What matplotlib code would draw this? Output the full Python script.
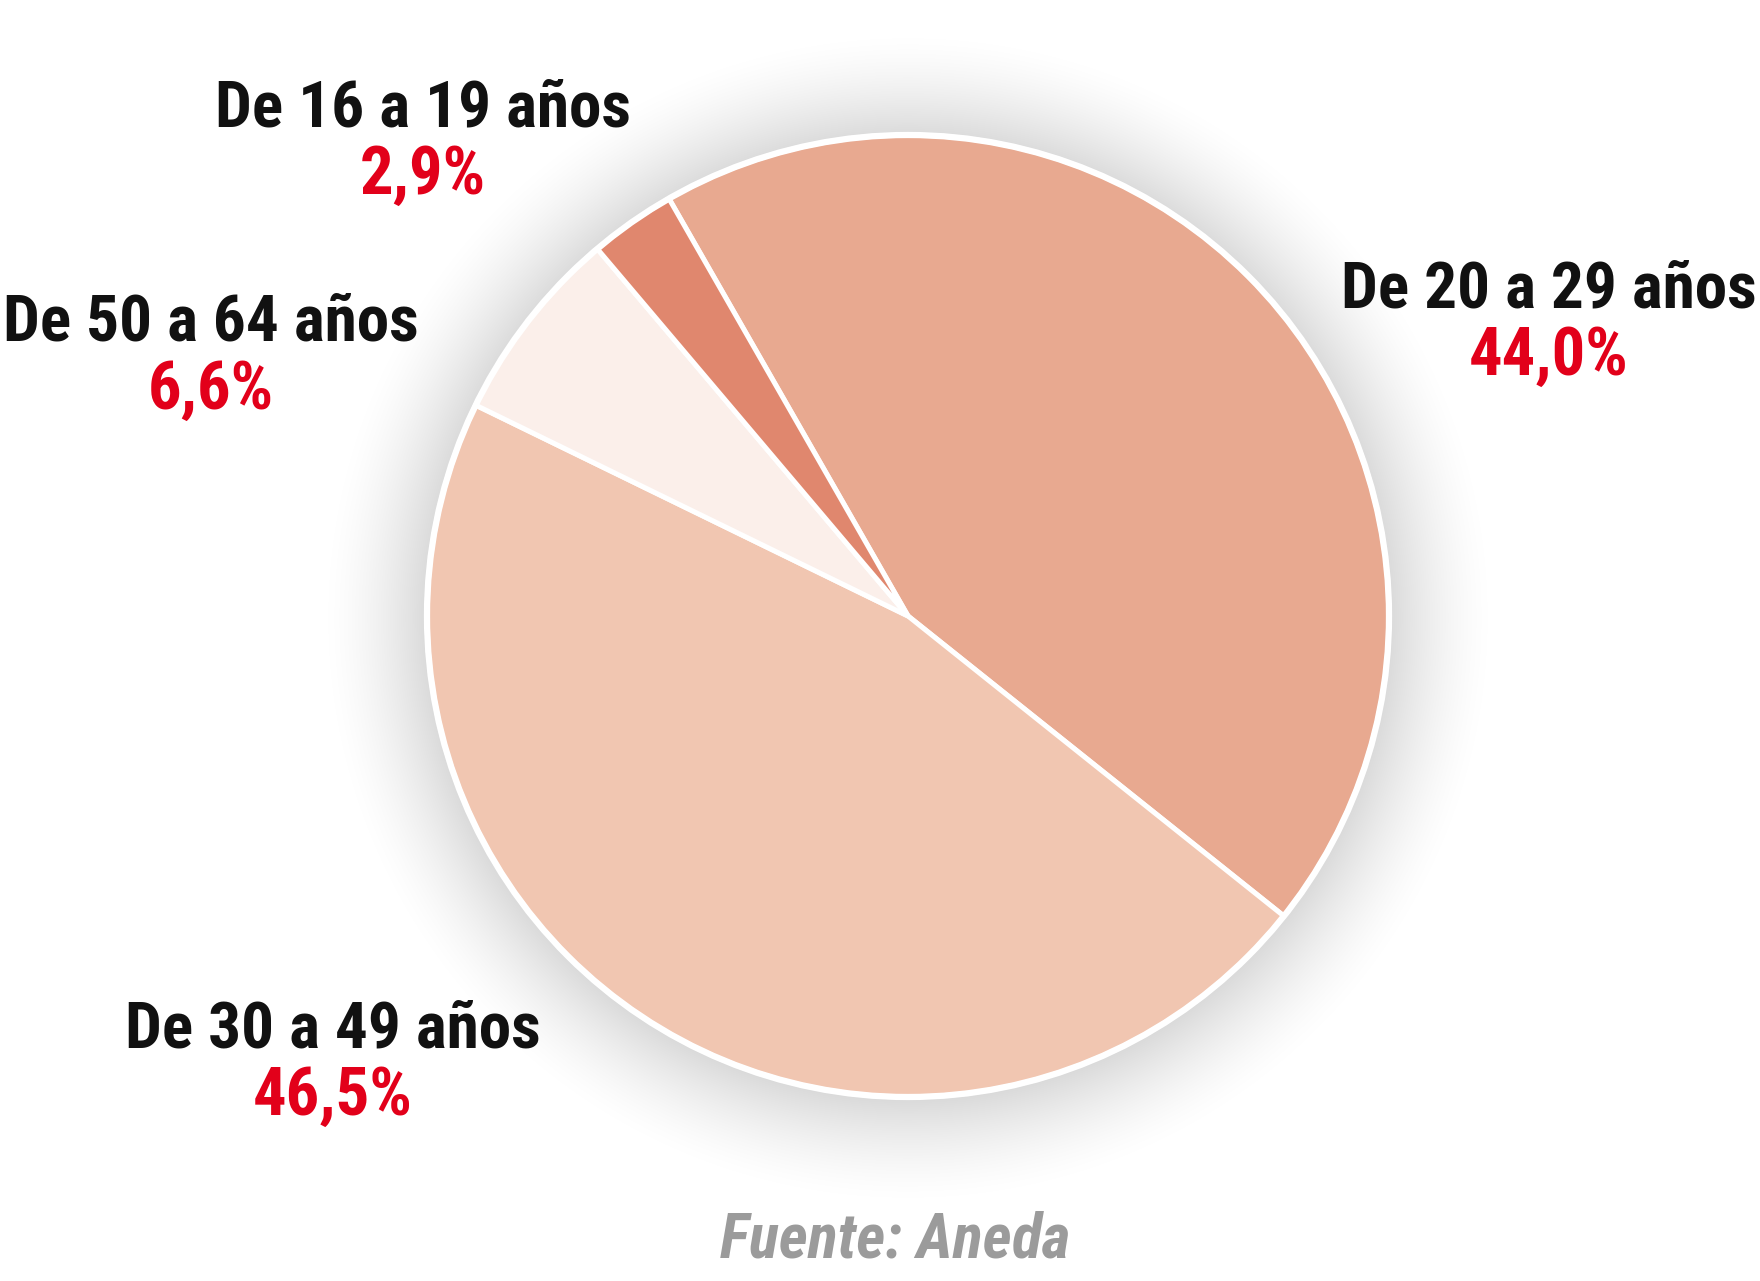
import matplotlib
matplotlib.use("Agg")
import matplotlib.pyplot as plt
import numpy as np
from matplotlib.patches import Circle
from matplotlib import font_manager

categories = ["De 20 a 29 años", "De 30 a 49 años", "De 50 a 64 años", "De 16 a 19 años"]
values = [44.0, 46.5, 6.6, 2.9]
labels_pct = ["44,0%", "46,5%", "6,6%", "2,9%"]
colors = ["#E8A990", "#F1C6B1", "#FBEFEA", "#E0876E"]
source = "Fuente: Aneda"

names = {f.name for f in font_manager.fontManager.ttflist}
fam = ["Roboto Condensed", "Open Sans Condensed", "Liberation Sans Narrow", "Roboto", "DejaVu Sans"]
fam = [f for f in fam if f in names] or ["DejaVu Sans"]

W, H = 1760, 1281
fig = plt.figure(figsize=(W / 100, H / 100), dpi=100)
ax = fig.add_axes([0, 0, 1, 1])

cx, cy, r = 908, H - 616, 481

# soft radial shadow around the pie
yy, xx = np.mgrid[0:H, 0:W]
d = np.hypot(xx + 0.5 - cx, (H - yy - 0.5) - (cy - 2))
t = np.clip(1 - (d - r) / 110.0, 0, 1)
shadow = np.zeros((H, W, 4))
shadow[..., 3] = 0.15 * t ** 1.6
ax.imshow(shadow, extent=(0, W, 0, H), origin="upper", zorder=1, interpolation="bilinear")

ax.pie(values, colors=colors, startangle=119.8, counterclock=False,
       center=(cx, cy), radius=r, frame=True,
       wedgeprops=dict(edgecolor="white", linewidth=3.6, zorder=3))
ax.add_patch(Circle((cx, cy), r, fill=False, edgecolor="white", lw=4.5, zorder=4))
ax.set_xlim(0, W)
ax.set_ylim(0, H)
ax.set_aspect("equal")
ax.axis("off")

pos = {
    "De 20 a 29 años": (1549, 290, 357),
    "De 30 a 49 años": (333, 1030, 1097),
    "De 50 a 64 años": (211, 323, 391),
    "De 16 a 19 años": (423, 109, 176),
}
fs = 47
for cat, pct in zip(categories, labels_pct):
    x, y1, y2 = pos[cat]
    ax.text(x, H - y1, cat, ha="center", va="center", fontsize=fs, fontweight="bold",
            color="#111111", family=fam, zorder=5)
    ax.text(x, H - y2, pct, ha="center", va="center", fontsize=48, fontweight="bold",
            color="#E2001A", family=fam, zorder=5)

ax.text(895, H - 1240, source, ha="center", va="center", fontsize=45, fontweight="bold",
        style="italic", color="#9B9B9B", family=fam, zorder=5)

fig.savefig("out.png", dpi=100, facecolor="white")
